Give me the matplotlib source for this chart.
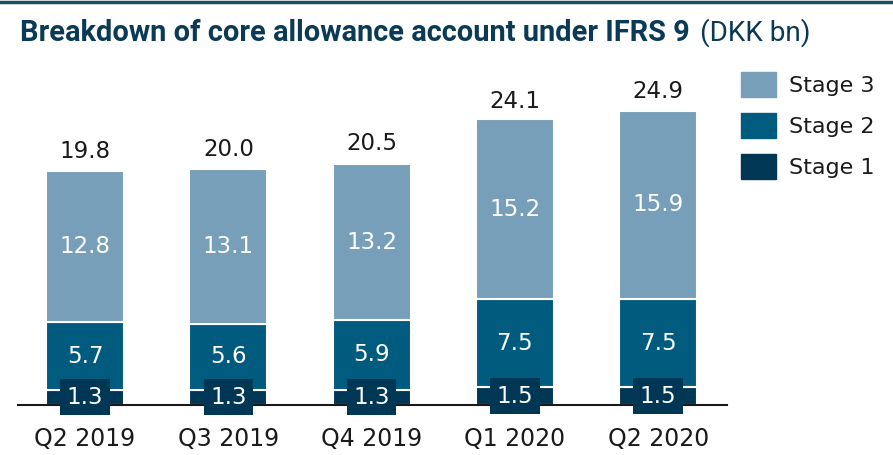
import matplotlib
matplotlib.use('Agg')
import matplotlib.pyplot as plt
from matplotlib.patches import Patch
from matplotlib.lines import Line2D

plt.rcParams['font.family'] = ['DejaVu Sans']

# data (DKK bn)
quarters = ['Q2 2019', 'Q3 2019', 'Q4 2019', 'Q1 2020', 'Q2 2020']
stage1 = [1.3, 1.3, 1.3, 1.5, 1.5]
stage2 = [5.7, 5.6, 5.9, 7.5, 7.5]
stage3 = [12.8, 13.1, 13.2, 15.2, 15.9]
totals = [19.8, 20.0, 20.5, 24.1, 24.9]

C1 = '#003755'
C2 = '#005b7f'
C3 = '#789fba'
TITLE_C = '#0b3a57'
TXT = '#1a1a1a'

W, H = 893, 455
fig = plt.figure(figsize=(W/100, H/100), dpi=100)
ax = fig.add_axes([18/W, 50/H, (727-18)/W, (405-60)/H])

x = list(range(len(quarters)))
w = 0.545
b2 = stage1
b3 = [a + b for a, b in zip(stage1, stage2)]
ax.bar(x, stage1, w, color=C1, edgecolor='white', linewidth=1.5, zorder=2)
ax.bar(x, stage2, w, bottom=b2, color=C2, edgecolor='white', linewidth=1.5, zorder=2)
ax.bar(x, stage3, w, bottom=b3, color=C3, edgecolor='white', linewidth=1.5, zorder=2)

fs = 16.5
for i in x:
    ax.text(i, stage1[i] / 2, f'{stage1[i]:.1f}', ha='center', va='center',
            color='white', fontsize=fs, zorder=4,
            bbox=dict(boxstyle='square,pad=0.28', fc=C1, ec='none'))
    ax.text(i, b2[i] + stage2[i] / 2, f'{stage2[i]:.1f}', ha='center', va='center',
            color='white', fontsize=fs, zorder=3)
    ax.text(i, b3[i] + stage3[i] / 2, f'{stage3[i]:.1f}', ha='center', va='center',
            color='white', fontsize=fs, zorder=3)
    ax.text(i, totals[i] + 1.1, f'{totals[i]:.1f}', ha='center', va='baseline',
            color=TXT, fontsize=fs)

ax.set_xlim(-0.468, 4.48)
ax.set_ylim(0, (405-60)/11.8)
ax.set_xticks(x)
ax.set_xticklabels(quarters, fontsize=17, color=TXT)
ax.tick_params(axis='x', length=0, pad=16)
ax.set_yticks([])
for s in ['top', 'right', 'left']:
    ax.spines[s].set_visible(False)
ax.spines['bottom'].set_color(TXT)
ax.spines['bottom'].set_linewidth(1.5)
ax.spines['bottom'].set_zorder(3)

# top rule and title
fig.add_artist(Line2D([0, 1], [1 - 2/H, 1 - 2/H], color='#1c4b63', linewidth=2.5))
ty = 1 - 33/H
t = fig.text(20/W, ty, 'Breakdown of core allowance account under IFRS 9',
             fontsize=16, fontweight='bold', color=TITLE_C, va='center', family='Roboto')
t2 = fig.text(0, ty, '(DKK bn)', fontsize=16, color=TITLE_C, va='center', family='Roboto')
fig.canvas.draw()
t.set_fontsize(16 * 672 / t.get_window_extent().width)
t2.set_fontsize(16 * 111 / t2.get_window_extent().width)
fig.canvas.draw()
t2.set_x(t.get_window_extent().x1 / W + 10/W)

handles = [Patch(color=C3, label='Stage 3'),
           Patch(color=C2, label='Stage 2'),
           Patch(color=C1, label='Stage 1')]
fig.legend(handles=handles, loc='upper left', bbox_to_anchor=(721/W, 1 - 52/H),
           frameon=False, fontsize=16, handlelength=1.58, handleheight=1.35,
           handletextpad=0.6, labelspacing=0.72, labelcolor=TXT)

fig.savefig('out.png', dpi=100)
